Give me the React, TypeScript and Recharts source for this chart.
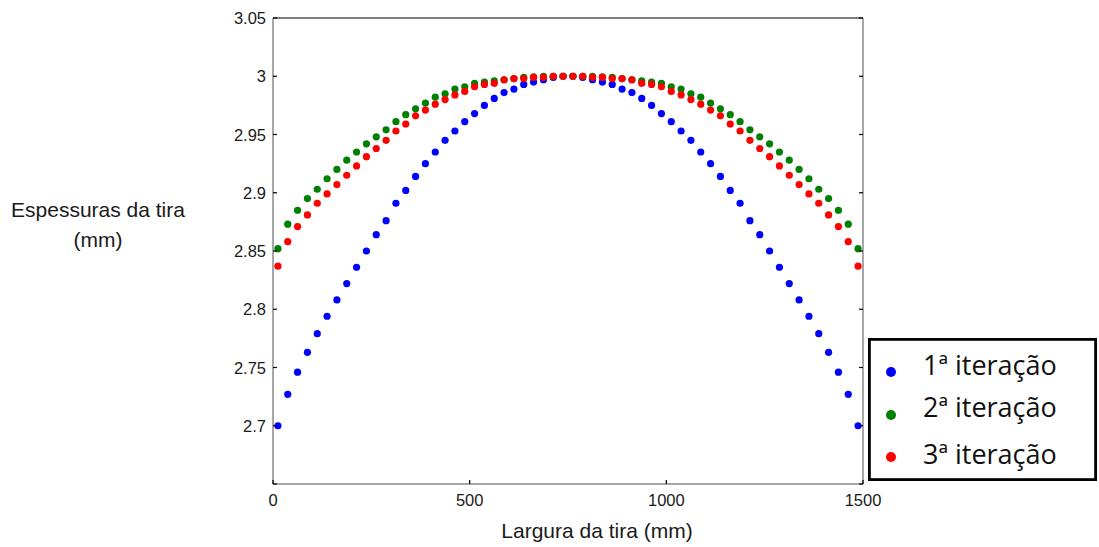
import { ScatterChart, Scatter, XAxis, YAxis, ReferenceLine } from "recharts";

// strip positions (mm), one point every 25 mm
const positions = [
  12.5, 37.5, 62.5, 87.5, 112.5, 137.5, 162.5, 187.5, 212.5, 237.5,
  262.5, 287.5, 312.5, 337.5, 362.5, 387.5, 412.5, 437.5, 462.5, 487.5,
  512.5, 537.5, 562.5, 587.5, 612.5, 637.5, 662.5, 687.5, 712.5, 737.5,
  762.5, 787.5, 812.5, 837.5, 862.5, 887.5, 912.5, 937.5, 962.5, 987.5,
  1012.5, 1037.5, 1062.5, 1087.5, 1112.5, 1137.5, 1162.5, 1187.5, 1212.5, 1237.5,
  1262.5, 1287.5, 1312.5, 1337.5, 1362.5, 1387.5, 1412.5, 1437.5, 1462.5, 1487.5,
];

const iter1 = [
  2.700, 2.727, 2.746, 2.763, 2.779, 2.794, 2.808, 2.822, 2.836, 2.850,
  2.864, 2.876, 2.891, 2.902, 2.914, 2.925, 2.935, 2.945, 2.953, 2.961,
  2.968, 2.975, 2.981, 2.986, 2.989, 2.993, 2.995, 2.997, 2.999, 3.000,
  3.000, 2.999, 2.997, 2.995, 2.993, 2.989, 2.986, 2.981, 2.975, 2.968,
  2.961, 2.953, 2.945, 2.935, 2.925, 2.914, 2.902, 2.891, 2.876, 2.864,
  2.850, 2.836, 2.822, 2.808, 2.794, 2.779, 2.763, 2.746, 2.727, 2.700,
];

const iter2 = [
  2.852, 2.873, 2.885, 2.895, 2.903, 2.912, 2.920, 2.928, 2.935, 2.942,
  2.948, 2.954, 2.961, 2.967, 2.972, 2.977, 2.982, 2.985, 2.989, 2.991,
  2.994, 2.995, 2.996, 2.997, 2.998, 2.999, 2.9995, 3.000, 3.000, 3.000,
  3.000, 3.000, 3.000, 2.9995, 2.999, 2.998, 2.997, 2.996, 2.995, 2.994,
  2.991, 2.989, 2.985, 2.982, 2.977, 2.972, 2.967, 2.961, 2.954, 2.948,
  2.942, 2.935, 2.928, 2.920, 2.912, 2.903, 2.895, 2.885, 2.873, 2.852,
];

const iter3 = [
  2.837, 2.858, 2.871, 2.881, 2.891, 2.899, 2.907, 2.915, 2.923, 2.931,
  2.938, 2.945, 2.953, 2.959, 2.966, 2.971, 2.976, 2.980, 2.984, 2.987,
  2.991, 2.993, 2.994, 2.997, 2.998, 2.998, 2.999, 2.999, 3.000, 3.000,
  3.000, 3.000, 2.999, 2.999, 2.998, 2.998, 2.997, 2.994, 2.993, 2.991,
  2.987, 2.984, 2.980, 2.976, 2.971, 2.966, 2.959, 2.953, 2.945, 2.938,
  2.931, 2.923, 2.915, 2.907, 2.899, 2.891, 2.881, 2.871, 2.858, 2.837,
];

const seriesNames = ["1ª iteração", "2ª iteração", "3ª iteração"];
const seriesColors = ["#0000ff", "#008000", "#ff0000"];
const xTicks = [0, 500, 1000, 1500];
const yTicks = [2.65, 2.7, 2.75, 2.8, 2.85, 2.9, 2.95, 3, 3.05];

const W = 1099;
const H = 547;
const Y_AXIS_W = 60;
const X_AXIS_H = 30;
// plot area: x 273..863, y 18..484
const margin = { top: 18, right: 236, bottom: 63 - X_AXIS_H, left: 273 - Y_AXIS_W };
const PLOT_LEFT = 273;
const PLOT_RIGHT = W - margin.right;
const PLOT_BOTTOM = 484;
const AXIS_GRAY = "#8a8a8a";
const TICK_FONT = "'Liberation Sans', Arial, sans-serif";

const series = [iter1, iter2, iter3].map((vals, i) => ({
  name: seriesNames[i],
  color: seriesColors[i],
  data: positions.map((x, j) => ({ x, y: vals[j] })),
}));

function YTick(props: any) {
  const { y, payload } = props;
  const label = payload.value === 2.65 ? "" : String(payload.value);
  return (
    <g>
      <line x1={PLOT_LEFT} x2={PLOT_LEFT + 4} y1={y} y2={y} stroke="#000" strokeWidth={1.2} />
      <line x1={PLOT_RIGHT - 4} x2={PLOT_RIGHT} y1={y} y2={y} stroke="#000" strokeWidth={1.2} />
      <text
        x={PLOT_LEFT - 7}
        y={y}
        textAnchor="end"
        dominantBaseline="central"
        fontFamily={TICK_FONT}
        fontSize={16.5}
        fill="#1a1a1a"
      >
        {label}
      </text>
    </g>
  );
}

function XTick(props: any) {
  const { x, payload } = props;
  return (
    <g>
      <line x1={x} x2={x} y1={PLOT_BOTTOM} y2={PLOT_BOTTOM - 4} stroke="#000" strokeWidth={1.2} />
      <text
        x={x}
        y={PLOT_BOTTOM + 16}
        textAnchor="middle"
        dominantBaseline="central"
        fontFamily={TICK_FONT}
        fontSize={16.5}
        fill="#1a1a1a"
      >
        {payload.value}
      </text>
    </g>
  );
}

// legend rows: dot centre and text baseline, relative to the legend box
const legendRows = [
  { dotY: 34, textY: 37 },
  { dotY: 77, textY: 79 },
  { dotY: 119, textY: 126 },
];

function LegendBox() {
  return (
    <svg
      width={229}
      height={143}
      style={{ position: "absolute", left: 868, top: 338 }}
    >
      <rect x={1.4} y={1.4} width={226.2} height={140.2} fill="#fff" stroke="#000" strokeWidth={2.8} />
      {series.map((s, i) => (
        <g key={s.name}>
          <circle cx={23} cy={legendRows[i].dotY} r={5} fill={s.color} />
          <text
            x={55}
            y={legendRows[i].textY}
            fontFamily="'Open Sans', 'Noto Sans', sans-serif"
            fontSize={27}
            fill="#111"
          >
            {s.name}
          </text>
        </g>
      ))}
    </svg>
  );
}

export default function App() {
  return (
    <div style={{ position: "absolute", left: 0, top: 0, width: W, height: H, background: "#fff" }}>
      <ScatterChart width={W} height={H} margin={margin}>
        <XAxis
          dataKey="x"
          type="number"
          domain={[0, 1500]}
          ticks={xTicks}
          interval={0}
          height={X_AXIS_H}
          tickSize={0}
          tickMargin={8}
          tickLine={false}
          axisLine={{ stroke: AXIS_GRAY, strokeWidth: 1.5 }}
          tick={XTick}
          allowDataOverflow
        />
        <YAxis
          dataKey="y"
          type="number"
          domain={[2.65, 3.05]}
          ticks={yTicks}
          interval={0}
          width={Y_AXIS_W}
          tickSize={0}
          tickMargin={7}
          tickLine={false}
          axisLine={{ stroke: AXIS_GRAY, strokeWidth: 1.5 }}
          tick={YTick}
          allowDataOverflow
        />
        <ReferenceLine y={3.05} stroke="#000" strokeWidth={1.2} />
        <ReferenceLine x={1500} stroke={AXIS_GRAY} strokeWidth={1.5} />
        {series.map((s) => (
          <Scatter
            key={s.name}
            name={s.name}
            data={s.data}
            fill={s.color}
            isAnimationActive={false}
            shape={(p: any) => <circle cx={p.cx} cy={p.cy} r={3.6} fill={s.color} />}
          />
        ))}
      </ScatterChart>

      <div
        style={{
          position: "absolute",
          left: 597,
          top: 519,
          transform: "translateX(-50%)",
          whiteSpace: "nowrap",
          fontFamily: TICK_FONT,
          fontSize: 21,
          lineHeight: "24px",
          color: "#1a1a1a",
        }}
      >
        Largura da tira (mm)
      </div>

      <div
        style={{
          position: "absolute",
          left: 98,
          top: 195,
          transform: "translateX(-50%)",
          whiteSpace: "nowrap",
          textAlign: "center",
          fontFamily: TICK_FONT,
          fontSize: 21,
          lineHeight: "30px",
          color: "#1a1a1a",
        }}
      >
        Espessuras da tira
        <br />
        (mm)
      </div>

      <LegendBox />
    </div>
  );
}
